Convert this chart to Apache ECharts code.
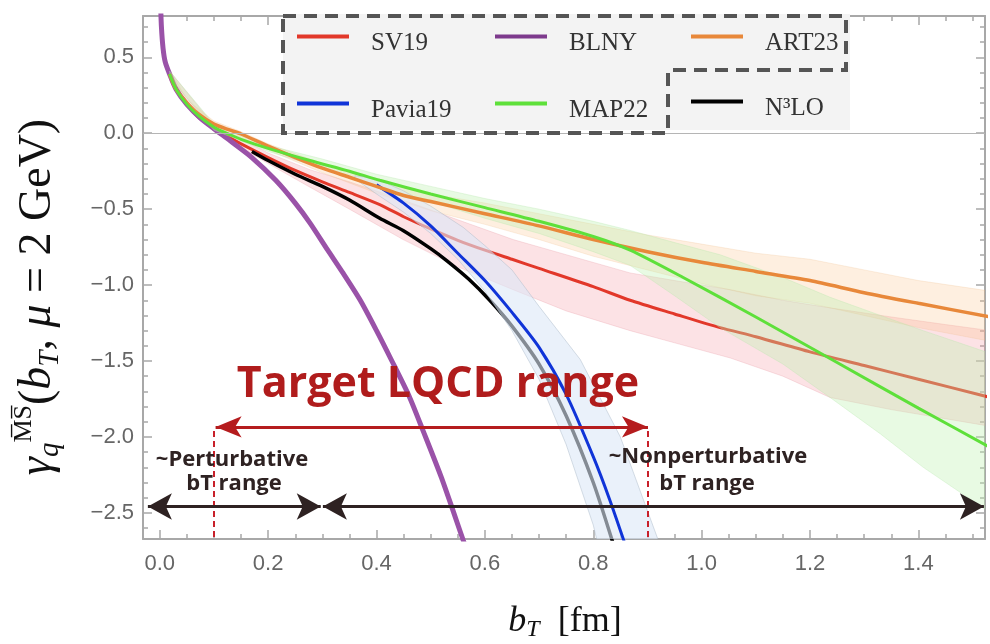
<!DOCTYPE html>
<html><head><meta charset="utf-8">
<script src="https://cdn.jsdelivr.net/npm/echarts@6/dist/echarts.min.js"></script>
<style>html,body{margin:0;padding:0;background:#fff}#c{width:990px;height:644px}</style>
</head><body><div id="c"></div>
<script>
// ---- axis ticks ----
const xMajorTicks = [0, 0.2, 0.4, 0.6, 0.8, 1.0, 1.2, 1.4];
const xMinorTicks = [0.05, 0.1, 0.15, 0.25, 0.3, 0.35, 0.45, 0.5, 0.55, 0.65, 0.7, 0.75, 0.85, 0.9, 0.95, 1.05, 1.1, 1.15, 1.25, 1.3, 1.35, 1.45, 1.5];
const yMajorTicks = [-2.5, -2.0, -1.5, -1.0, -0.5, 0.0, 0.5];
const yMinorTicks = [-2.6, -2.4, -2.3, -2.2, -2.1, -1.9, -1.8, -1.7, -1.6, -1.4, -1.3, -1.2, -1.1, -0.9, -0.8, -0.7, -0.6, -0.4, -0.3, -0.2, -0.1, 0.1, 0.2, 0.3, 0.4, 0.6, 0.7];

// ---- central curves [bT, gamma] ----
const blny = [[0.0015,0.85],[0.003,0.70],[0.006,0.56],[0.01,0.47],[0.018,0.39],[0.03,0.29],[0.05,0.19],[0.075,0.10],[0.1,0.03],[0.13,-0.05],[0.17,-0.16],[0.214,-0.31],[0.25,-0.46],[0.277,-0.59],[0.31,-0.77],[0.338,-0.92],[0.37,-1.10],[0.40,-1.30],[0.427,-1.49],[0.46,-1.73],[0.486,-1.96],[0.52,-2.27],[0.56,-2.68],[0.57,-2.78]];
const sv19 = [[0.018,0.39],[0.03,0.29],[0.05,0.19],[0.07,0.11],[0.1,0.035],[0.13,-0.03],[0.15,-0.07],[0.2,-0.16],[0.25,-0.245],[0.3,-0.32],[0.35,-0.39],[0.406,-0.47],[0.45,-0.55],[0.5,-0.63],[0.55,-0.705],[0.6,-0.77],[0.65,-0.83],[0.7,-0.89],[0.8,-1.01],[0.868,-1.10],[0.95,-1.19],[1.034,-1.28],[1.1,-1.34],[1.2,-1.44],[1.3,-1.53],[1.4,-1.62],[1.533,-1.74]];
const art23 = [[0.018,0.39],[0.03,0.29],[0.05,0.20],[0.07,0.13],[0.1,0.06],[0.13,0.02],[0.15,-0.005],[0.2,-0.085],[0.25,-0.16],[0.3,-0.23],[0.35,-0.29],[0.4,-0.35],[0.45,-0.41],[0.5,-0.45],[0.6,-0.53],[0.7,-0.61],[0.8,-0.70],[0.9,-0.78],[1.0,-0.85],[1.1,-0.91],[1.2,-0.97],[1.3,-1.05],[1.4,-1.12],[1.533,-1.21]];
const map22 = [[0.018,0.39],[0.03,0.29],[0.05,0.19],[0.07,0.12],[0.1,0.04],[0.13,-0.01],[0.15,-0.04],[0.2,-0.10],[0.277,-0.18],[0.35,-0.25],[0.406,-0.31],[0.5,-0.40],[0.6,-0.49],[0.7,-0.58],[0.8,-0.68],[0.868,-0.77],[0.966,-0.95],[1.1,-1.21],[1.25,-1.51],[1.4,-1.81],[1.533,-2.07]];
const pavia19 = [[0.40,-0.34],[0.45,-0.46],[0.5,-0.61],[0.55,-0.79],[0.6,-0.97],[0.65,-1.18],[0.7,-1.41],[0.75,-1.72],[0.8,-2.13],[0.83,-2.41],[0.86,-2.72]];
const n3lo = [[0.17,-0.12],[0.2,-0.18],[0.25,-0.27],[0.3,-0.35],[0.35,-0.44],[0.406,-0.56],[0.449,-0.64],[0.5,-0.76],[0.53,-0.84],[0.57,-0.96],[0.609,-1.10],[0.65,-1.27],[0.7,-1.52],[0.75,-1.86],[0.8,-2.30],[0.84,-2.74]];

// ---- uncertainty bands [bT, lower, upper] ----
const sv19Band = [[0.018,0.37,0.41],[0.1,0.01,0.05],[0.2,-0.20,-0.13],[0.277,-0.355,-0.24],[0.35,-0.50,-0.32],[0.449,-0.70,-0.44],[0.55,-0.88,-0.57],[0.652,-1.03,-0.70],[0.75,-1.17,-0.80],[0.868,-1.30,-0.92],[0.95,-1.38,-0.97],[1.053,-1.48,-1.03],[1.15,-1.60,-1.10],[1.237,-1.74,-1.15],[1.35,-1.82,-1.21],[1.45,-1.88,-1.26],[1.533,-1.93,-1.30]];
const art23Band = [[0.018,0.35,0.42],[0.05,0.17,0.22],[0.1,0.04,0.08],[0.15,-0.03,0.01],[0.2,-0.11,-0.07],[0.3,-0.26,-0.20],[0.4,-0.395,-0.31],[0.5,-0.51,-0.40],[0.6,-0.60,-0.46],[0.7,-0.70,-0.53],[0.8,-0.81,-0.60],[0.9,-0.90,-0.67],[1.0,-0.99,-0.73],[1.1,-1.07,-0.79],[1.2,-1.12,-0.83],[1.3,-1.20,-0.90],[1.4,-1.28,-0.97],[1.533,-1.37,-1.04]];
const map22Band = [[0.018,0.37,0.41],[0.1,0.02,0.06],[0.2,-0.12,-0.08],[0.3,-0.23,-0.17],[0.4,-0.35,-0.27],[0.5,-0.45,-0.35],[0.6,-0.56,-0.43],[0.7,-0.66,-0.50],[0.8,-0.78,-0.58],[0.868,-0.87,-0.64],[0.95,-1.07,-0.72],[1.034,-1.28,-0.80],[1.15,-1.52,-0.95],[1.237,-1.74,-1.08],[1.33,-1.98,-1.20],[1.409,-2.20,-1.30],[1.533,-2.50,-1.45]];
const pavia19BandUpper = [[0.36,-0.28],[0.40,-0.30],[0.45,-0.38],[0.5,-0.48],[0.56,-0.62],[0.6,-0.74],[0.65,-0.90],[0.7,-1.14],[0.776,-1.49],[0.85,-2.0],[0.92,-2.68],[0.935,-2.8]];
const pavia19BandLower = [[0.36,-0.30],[0.40,-0.40],[0.45,-0.52],[0.5,-0.66],[0.55,-0.83],[0.6,-1.04],[0.65,-1.30],[0.7,-1.62],[0.75,-2.05],[0.8,-2.58],[0.815,-2.8]];

// ---- annotation ranges ----
const targetRange = [0.103, 0.901];   // LQCD target range (arrow tips)
const targetDash = [0.1, 0.9];        // dashed limits
const pertRange = [-0.022, 0.297];
const nonpertRange = [0.301, 1.521];

const XMIN = -0.031, XMAX = 1.523, YMIN = -2.672, YMAX = 0.772;

function bandPoly(rows){
  return rows.map(r => [r[0], r[2]]).concat(rows.slice().reverse().map(r => [r[0], r[1]]));
}
function edgePoly(up, lo){ return up.concat(lo.slice().reverse()); }

function polySeries(name, poly, fill, stroke, z){
  return {
    type:'custom', name:name, data:poly, z:z, silent:true, clip:true,
    renderItem:function(params, api){
      if (params.dataIndex !== 0) return null;
      const pts = poly.map(p => api.coord(p));
      return {type:'polygon', shape:{points:pts}, style:{fill:fill, stroke:stroke, lineWidth:0.8}};
    }
  };
}
function lineSeries(name, data, color, width, z){
  return {type:'line', name:name, data:data, showSymbol:false, symbol:'none', smooth:0.25,
    lineStyle:{color:color, width:width}, itemStyle:{color:color}, color:color, z:z, silent:true, clip:true};
}
const fmt = v => v.toFixed(1).replace('-', '\u2212');
const axisGray = '#a8a8a8';
const tickFont = {fontFamily:'Liberation Sans', fontSize:22, color:'#666'};

function xAx(pos, ticks, len, showLine, showLabel){
  return {type:'value', position:pos, min:XMIN, max:XMAX,
    axisLine:{show:showLine, onZero:false, lineStyle:{color:axisGray, width:2}},
    axisTick:{show:true, inside:true, length:len, customValues:ticks, lineStyle:{color:axisGray, width:1.5}},
    axisLabel:Object.assign({show:showLabel, customValues:ticks, formatter:fmt, margin:14}, tickFont),
    splitLine:{show:false}};
}
function yAx(pos, ticks, len, showLine, showLabel){
  return {type:'value', position:pos, min:YMIN, max:YMAX,
    axisLine:{show:showLine, onZero:false, lineStyle:{color:axisGray, width:2}},
    axisTick:{show:true, inside:true, length:len, customValues:ticks, lineStyle:{color:axisGray, width:1.5}},
    axisLabel:Object.assign({show:showLabel, customValues:ticks, formatter:fmt, margin:9}, tickFont),
    splitLine:{show:false}};
}

const legendIcon = 'path://M0,0L52,0L52,4L0,4Z M68.99,17.99L69,17.99L69,18Z';
function leg(name, left, top, color){
  const d = color ? {name:name, itemStyle:{color:color}} : name;
  return {data:[d], left:left, top:top, icon:legendIcon, itemWidth:69, itemHeight:18, selectedMode:false,
    textStyle:{fontFamily:'Liberation Serif', fontSize:25, color:'#333'}, z:6};
}

const C = {sv:'#e2382a', pv:'#1034d8', bl:'#9a52a8', mp:'#5ee03a', ar:'#e8883a', n3:'#000000'};

const chart = echarts.init(document.getElementById('c'), null, {renderer:'canvas'});
const option = {
  animation:false,
  backgroundColor:'#ffffff',
  grid:{left:143, right:5, top:16, bottom:105, containLabel:false},
  xAxis:[xAx('bottom', xMajorTicks, 9, true, true), xAx('bottom', xMinorTicks, 5, false, false),
         xAx('top', xMajorTicks, 9, true, false), xAx('top', xMinorTicks, 5, false, false)],
  yAxis:[yAx('left', yMajorTicks, 9, true, true), yAx('left', yMinorTicks, 5, false, false),
         yAx('right', yMajorTicks, 9, true, false), yAx('right', yMinorTicks, 5, false, false)],
  legend:[leg('SV19',292,26), leg('BLNY',490,26,'#7d3a8c'), leg('ART23',686,26),
          leg('Pavia19',292,93), leg('MAP22',490,93), leg('N³LO',686,91)],
  series:[
    {type:'line', name:'zero', data:[], z:0, silent:true,
      markLine:{silent:true, symbol:'none', label:{show:false}, lineStyle:{color:'#b5b5b5', width:1, type:'solid'}, data:[{yAxis:0}]}},
    polySeries('SV19 band', bandPoly(sv19Band), 'rgba(245,150,160,0.28)', 'rgba(230,150,160,0.35)', 1),
    polySeries('ART23 band', bandPoly(art23Band), 'rgba(250,190,130,0.25)', 'rgba(240,190,140,0.3)', 1),
    lineSeries('SV19', sv19, C.sv, 3, 2),
    lineSeries('N³LO', n3lo, C.n3, 3.5, 2),
    lineSeries('BLNY', blny, C.bl, 5, 2),
    polySeries('MAP22 band', bandPoly(map22Band), 'rgba(190,240,175,0.35)', 'rgba(180,230,170,0.4)', 3),
    polySeries('Pavia19 band', edgePoly(pavia19BandUpper, pavia19BandLower), 'rgba(220,232,246,0.6)', 'rgba(170,185,200,0.6)', 3),
    lineSeries('Pavia19', pavia19, C.pv, 3, 3.5),
    lineSeries('ART23', art23, C.ar, 3.5, 4),
    lineSeries('MAP22', map22, C.mp, 3, 4),
    {type:'line', name:'dash', data:[], z:9, silent:true,
      markLine:{silent:true, symbol:'none', label:{show:false}, lineStyle:{color:'#c8202a', width:2, type:[6,4]},
        data:[[{coord:[targetDash[0],-1.96]},{coord:[targetDash[0],YMIN]}],[{coord:[targetDash[1],-1.96]},{coord:[targetDash[1],YMIN]}]]}},
    {type:'line', name:'redArrow', data:[], z:10, silent:true,
      markLine:{silent:true, symbol:['arrow','arrow'], symbolSize:[16,26], label:{show:false}, lineStyle:{color:'#b51c1e', width:3, type:'solid'},
        data:[[{coord:[targetRange[0],-1.934]},{coord:[targetRange[1],-1.934]}]]}},
    {type:'line', name:'blackArrow', data:[], z:10, silent:true,
      markLine:{silent:true, symbol:['arrow','arrow'], symbolSize:[20,24], label:{show:false}, lineStyle:{color:'#2e2222', width:3, type:'solid'},
        data:[[{coord:[pertRange[0],-2.458]},{coord:[pertRange[1],-2.458]}],[{coord:[nonpertRange[0],-2.458]},{coord:[nonpertRange[1],-2.458]}]]}}
  ],
  graphic:[
    {type:'rect', shape:{x:283, y:14, width:567, height:116}, style:{fill:'#f3f3f3'}, z:5, silent:true},
    {type:'polyline', shape:{points:[[283,16],[846,16],[846,70],[668,70],[668,133],[283,133],[283,16]]},
      style:{stroke:'#555', lineWidth:4, lineDash:[13,8], fill:null}, z:7, silent:true},
    {type:'text', x:438, y:385, z:20, silent:true, style:{text:'Target LQCD range', fontFamily:'Open Sans', fontWeight:'bold', fontSize:43, fill:'#b01c1c', align:'center', verticalAlign:'middle'}},
    {type:'text', x:232, y:460, z:20, silent:true, style:{text:'~Perturbative', fontFamily:'Open Sans', fontWeight:'bold', fontSize:22, fill:'#2e2222', align:'center', verticalAlign:'middle'}},
    {type:'text', x:234, y:484, z:20, silent:true, style:{text:'bT range', fontFamily:'Open Sans', fontWeight:'bold', fontSize:22, fill:'#2e2222', align:'center', verticalAlign:'middle'}},
    {type:'text', x:708, y:457, z:20, silent:true, style:{text:'~Nonperturbative', fontFamily:'Open Sans', fontWeight:'bold', fontSize:22, fill:'#2e2222', align:'center', verticalAlign:'middle'}},
    {type:'text', x:707, y:484, z:20, silent:true, style:{text:'bT range', fontFamily:'Open Sans', fontWeight:'bold', fontSize:22, fill:'#2e2222', align:'center', verticalAlign:'middle'}},
    {type:'text', x:565, y:622, z:20, silent:true, style:{
      text:'{i|b}{s|T}{r|  [fm]}', align:'center', verticalAlign:'middle',
      rich:{
        i:{fontFamily:'Liberation Serif', fontStyle:'italic', fontSize:36, lineHeight:40, fill:'#111'},
        s:{fontFamily:'Liberation Serif', fontStyle:'italic', fontSize:24, lineHeight:24, verticalAlign:'bottom', fill:'#111'},
        r:{fontFamily:'Liberation Serif', fontSize:36, lineHeight:40, fill:'#111'}
      }}},
    {type:'text', x:38, y:297, rotation:Math.PI/2, z:20, silent:true, style:{
      text:'{i|\u03b3}{s|q}{p|M\u0305S\u0305}{r|(}{i|b}{s|T}{r|, }{i|\u03bc}{r| = 2 GeV)}', align:'center', verticalAlign:'middle',
      rich:{
        i:{fontFamily:'Liberation Serif', fontStyle:'italic', fontSize:46, lineHeight:54, fill:'#111'},
        r:{fontFamily:'Liberation Serif', fontSize:46, lineHeight:54, fill:'#111'},
        s:{fontFamily:'Liberation Serif', fontStyle:'italic', fontSize:29, lineHeight:29, verticalAlign:'bottom', fill:'#111'},
        p:{fontFamily:'Liberation Serif', fontSize:26, lineHeight:26, verticalAlign:'top', fill:'#111'}
      }}}
  ]
};
chart.setOption(option);
</script>
</body></html>
